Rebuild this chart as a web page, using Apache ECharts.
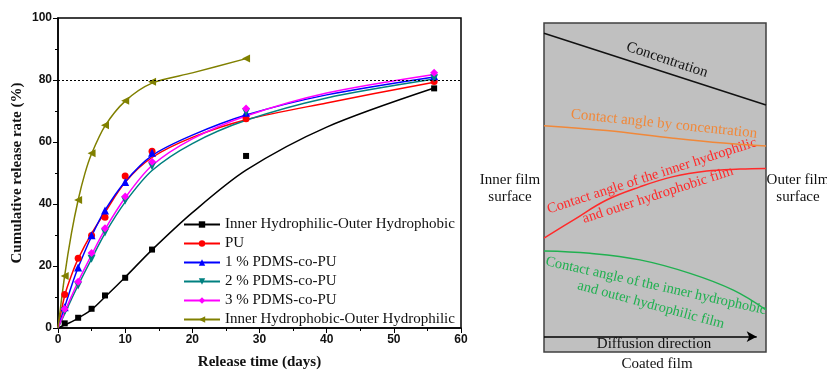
<!DOCTYPE html>
<html>
<head>
<meta charset="utf-8">
<script src="https://cdn.jsdelivr.net/npm/echarts@6/dist/echarts.min.js"></script>
<style>
html, body { margin: 0; padding: 0; background: #fff; }
#chart { width: 827px; height: 375px; }
</style>
</head>
<body>
<div id="chart"></div>
<script>
// measured release points
const days = [1, 3, 5, 7, 10, 14, 28, 56]
const philicPhobic = [1.5, 3.3, 6.2, 10.5, 16.2, 25.3, 55.5, 77.3]
const pu = [10.8, 22.5, 29.8, 35.7, 49.0, 57.0, 67.5, 79.5]
const pdms1 = [6.7, 19.5, 29.9, 37.9, 47.1, 56.5, 69.4, 81.2]
const pdms2 = [5.4, 13.7, 22.3, 30.8, 41.1, 52.2, 69.6, 80.6]
const pdms3 = [6.1, 14.9, 24.2, 32.2, 42.4, 53.6, 70.8, 82.3]
const phobicDays = [1, 3, 5, 7, 10, 14, 28]
const phobicPhilic = [16.8, 41.3, 56.4, 65.4, 73.3, 79.4, 86.9]

// fitted curves
const fitDays = [0, 1, 2, 3, 5, 7, 10, 14, 20, 28, 40, 56]
const fitPhilicPhobic = [0, 1.0, 2.0, 3.2, 5.9, 10.0, 16.4, 25.2, 37.2, 50.9, 64.8, 77.4]
const fitPu = [0, 10.5, 17.0, 22.3, 30.5, 37.3, 47.0, 55.0, 61.5, 67.2, 72.6, 79.3]
const fitPdms1 = [0, 6.8, 13.5, 19.5, 29.6, 38.0, 47.2, 55.6, 62.2, 68.7, 75.2, 81.0]
const fitPdms2 = [0, 4.6, 9.3, 13.8, 22.3, 30.5, 40.6, 50.8, 59.5, 67.0, 74.2, 80.3]
const fitPdms3 = [0, 5.2, 10.2, 15.0, 23.6, 31.8, 42.0, 52.4, 61.0, 68.4, 75.8, 81.8]
const fitPhobicDays = [0, 1, 2, 3, 4, 5, 7, 10, 14, 20, 28]
const fitPhobicPhilic = [0, 17.0, 30.5, 41.3, 49.8, 56.2, 65.2, 73.2, 79.0, 82.3, 86.9]
const refLevel = 80

// schematic curves (position across film 0-100, level 0-100)
const concX = [0, 100]
const concY = [96.9, 75.1]
const angleConcX = [0, 28.2, 58.2, 80.8, 100]
const angleConcY = [68.8, 67.3, 65.0, 63.5, 62.6]
const anglePhilicX = [0, 13.2, 28.2, 43.2, 58.2, 73.3, 88.3, 100]
const anglePhilicY = [34.6, 40.1, 46.2, 50.2, 53.3, 55.0, 55.6, 55.8]
const anglePhobicX = [0, 20.7, 43.2, 65.8, 85.3, 100]
const anglePhobicY = [30.7, 30.0, 28.0, 23.9, 18.8, 12.8]
const arrowLevel = 4.65
const arrowEnd = 95.8

const zip = (xs, ys) => xs.map((x, i) => [x, ys[i]])

const serif = 'Liberation Serif'
const sans = 'Liberation Sans'

let sets = [
    { name: 'Inner Hydrophilic-Outer Hydrophobic', color: '#000000', symbol: 'rect', size: 6, rot: 0,
      x: days, y: philicPhobic, fx: fitDays, fy: fitPhilicPhobic },
    { name: 'PU', color: '#ff0000', symbol: 'circle', size: 7, rot: 0,
      x: days, y: pu, fx: fitDays, fy: fitPu },
    { name: '1 % PDMS-co-PU', color: '#0000ff', symbol: 'triangle', size: 8, rot: 0,
      x: days, y: pdms1, fx: fitDays, fy: fitPdms1 },
    { name: '2 % PDMS-co-PU', color: '#008080', symbol: 'triangle', size: 8, rot: 180,
      x: days, y: pdms2, fx: fitDays, fy: fitPdms2 },
    { name: '3 % PDMS-co-PU', color: '#ff00ff', symbol: 'diamond', size: 8, rot: 0,
      x: days, y: pdms3, fx: fitDays, fy: fitPdms3 },
    { name: 'Inner Hydrophobic-Outer Hydrophilic', color: '#808000', symbol: 'triangle', size: 8, rot: 90,
      x: phobicDays, y: phobicPhilic, fx: fitPhobicDays, fy: fitPhobicPhilic },
]

let series = []
sets.forEach(s => {
    series.push({
        name: s.name,
        type: 'line',
        data: zip(s.fx, s.fy),
        smooth: 0.3,
        symbol: s.symbol,
        symbolSize: s.size,
        symbolRotate: s.rot,
        showSymbol: false,
        itemStyle: { color: s.color },
        lineStyle: { color: s.color, width: 1.5 },
        silent: true,
        z: 2
    })
})
sets.forEach(s => {
    series.push({
        name: s.name,
        type: 'scatter',
        data: zip(s.x, s.y),
        symbol: s.symbol,
        symbolSize: s.size,
        symbolRotate: s.rot,
        itemStyle: { color: s.color, opacity: 1 },
        z: 3
    })
})
// dotted 80 % level
series.push({
    type: 'line',
    data: [],
    markLine: {
        silent: true,
        symbol: 'none',
        label: { show: false },
        lineStyle: { color: '#000', type: [2, 2], width: 1 },
        data: [{ yAxis: refLevel }]
    }
})

// schematic on the right
const diagramLine = (xs, ys, color, width) => ({
    type: 'line',
    xAxisIndex: 1,
    yAxisIndex: 1,
    data: zip(xs, ys),
    smooth: 0.4,
    symbol: 'none',
    lineStyle: { color: color, width: width || 1.5 },
    silent: true
})
series.push(diagramLine(concX, concY, '#111111'))
series.push(diagramLine(angleConcX, angleConcY, '#f0883a'))
series.push(diagramLine(anglePhilicX, anglePhilicY, '#ff2a2a'))
series.push(diagramLine(anglePhobicX, anglePhobicY, '#20b050'))
series.push({
    type: 'line',
    xAxisIndex: 1,
    yAxisIndex: 1,
    data: [],
    markLine: {
        silent: true,
        symbol: ['none', 'arrow'],
        symbolSize: [8, 10],
        label: { show: false },
        lineStyle: { color: '#000', type: 'solid', width: 1.5 },
        data: [[{ coord: [0, arrowLevel] }, { coord: [arrowEnd, arrowLevel] }]]
    }
})

const txt = (text, x, y, deg, color, size) => ({
    type: 'text',
    x: x,
    y: y,
    rotation: deg * Math.PI / 180,
    silent: true,
    style: {
        text: text,
        fill: color || '#111',
        font: (size || 15) + 'px "' + serif + '"',
        textAlign: 'center',
        textVerticalAlign: 'middle'
    }
})

let myChart = echarts.init(document.getElementById('chart'))
let option = {
    backgroundColor: '#ffffff',
    animation: false,
    grid: [
        { left: 58, top: 18, right: 366, bottom: 41, show: true, borderColor: '#000', borderWidth: 1.5 },
        { left: 544, top: 23, width: 222, height: 329, show: true,
          backgroundColor: '#c0c0c0', borderColor: '#404040', borderWidth: 1.5 }
    ],
    legend: {
        data: sets.map(s => s.name),
        orient: 'vertical',
        left: 183,
        top: 217,
        itemWidth: 36,
        itemHeight: 8,
        itemGap: 4,
        padding: 0,
        textStyle: { fontFamily: serif, fontSize: 15, color: '#111' }
    },
    xAxis: [{
        type: 'value',
        min: 0,
        max: 60,
        interval: 10,
        name: 'Release time (days)',
        nameLocation: 'middle',
        nameGap: 27,
        nameTextStyle: { fontFamily: serif, fontWeight: 'bold', fontSize: 15, color: '#111' },
        axisLine: { lineStyle: { color: '#000', width: 1.5 } },
        axisTick: { show: true, length: 5, lineStyle: { color: '#000', width: 1 } },
        minorTick: { show: true, splitNumber: 2, length: 3, lineStyle: { color: '#000' } },
        splitLine: { show: false },
        axisLabel: { fontFamily: sans, fontWeight: 'bold', fontSize: 12, color: '#111', margin: 6 }
    }, {
        gridIndex: 1, type: 'value', min: 0, max: 100, show: false
    }],
    yAxis: [{
        type: 'value',
        min: 0,
        max: 100,
        interval: 20,
        name: 'Cumulative release rate (%)',
        nameLocation: 'middle',
        nameGap: 33,
        nameTextStyle: { fontFamily: serif, fontWeight: 'bold', fontSize: 15, color: '#111' },
        axisLine: { show: true, lineStyle: { color: '#000', width: 1.5 } },
        axisTick: { show: true, length: 5, lineStyle: { color: '#000', width: 1 } },
        minorTick: { show: true, splitNumber: 2, length: 3, lineStyle: { color: '#000' } },
        splitLine: { show: false },
        axisLabel: { fontFamily: sans, fontWeight: 'bold', fontSize: 12, color: '#111', margin: 6 }
    }, {
        gridIndex: 1, type: 'value', min: 0, max: 100, show: false
    }],
    graphic: [
        txt('Concentration', 667, 60, -18.4),
        txt('Contact angle by concentration', 664, 124, -6, '#f0883a'),
        txt('Contact angle of the inner hydrophilic', 652, 176, 18, '#ff2a2a', 14.4),
        txt('and outer hydrophobic film', 658, 195, 18, '#ff2a2a', 14.4),
        txt('Contact angle of the inner hydrophobic', 656, 286, -12.6, '#20b050', 14.4),
        txt('and outer hydrophilic film', 651, 305, -15, '#20b050', 14.4),
        txt('Diffusion direction', 654, 344, 0),
        txt('Coated film', 657, 364, 0),
        txt('Inner film', 510, 180, 0),
        txt('surface', 510, 197, 0),
        txt('Outer film', 798, 180, 0),
        txt('surface', 798, 197, 0)
    ],
    series: series
}
myChart.setOption(option)
</script>
</body>
</html>
